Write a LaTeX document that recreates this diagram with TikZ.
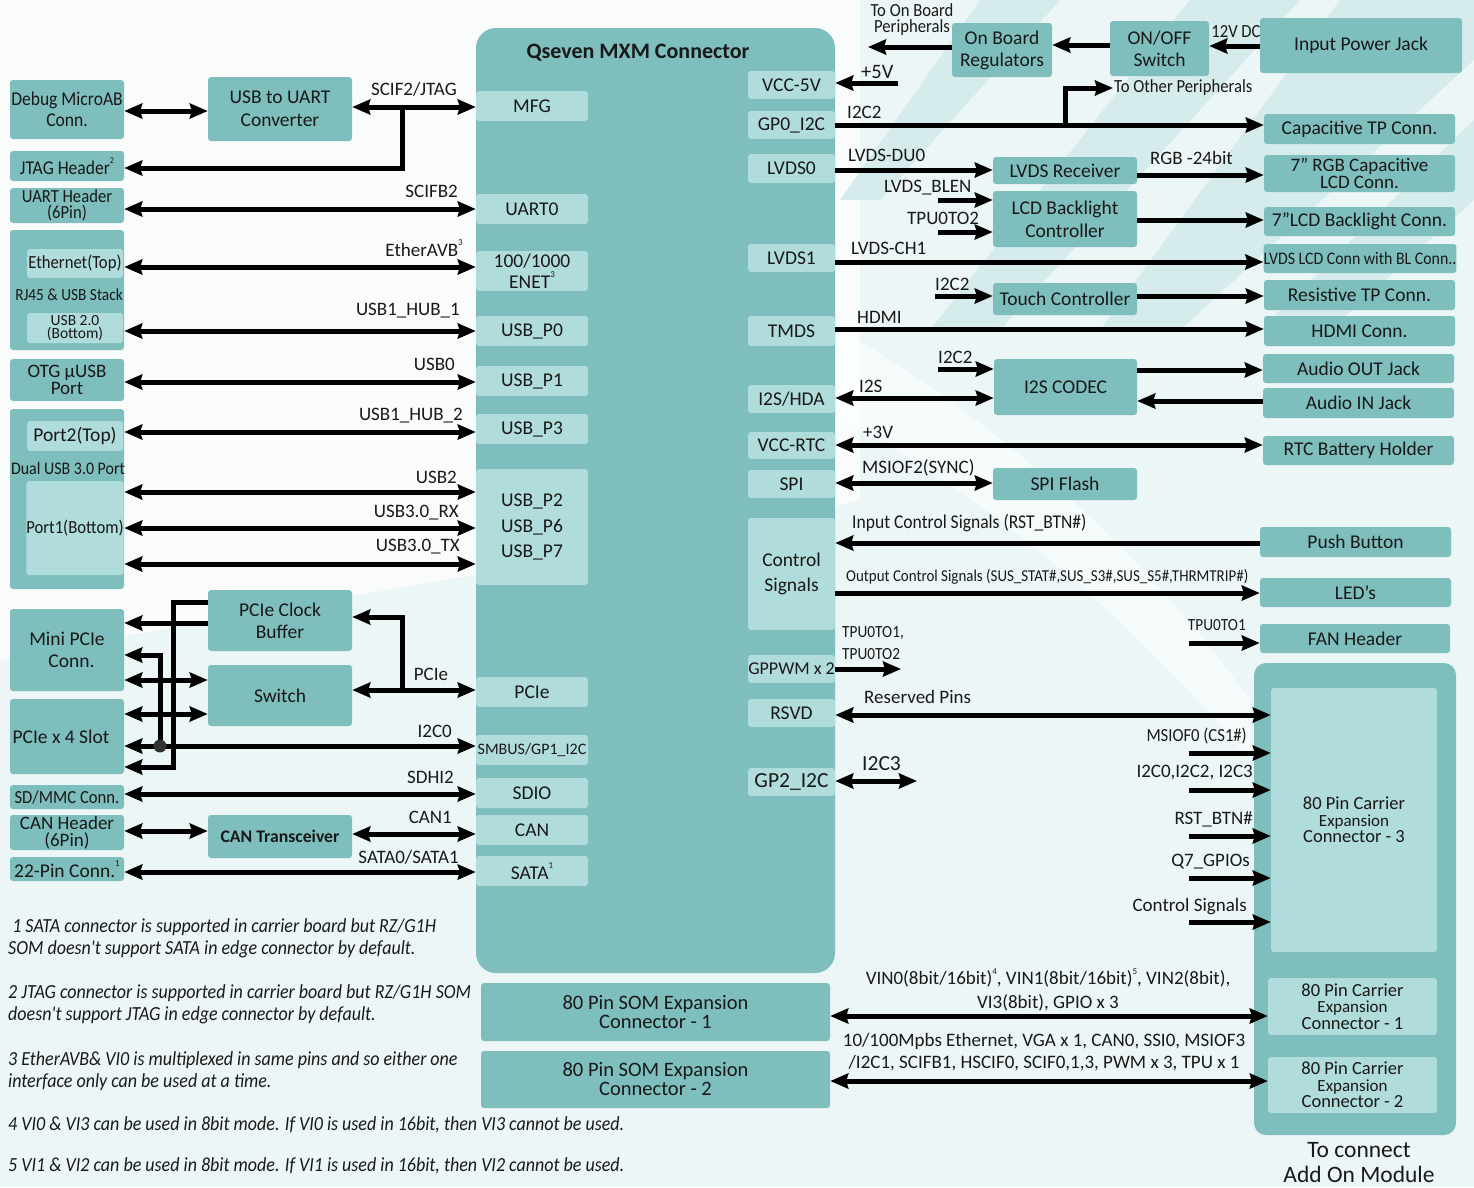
\documentclass[tikz,border=0pt]{standalone}
\usepackage{fontspec}
\setmainfont{Carlito}
\newfontfamily\condf{Carlito}[FakeStretch=0.9]
\usetikzlibrary{arrows.meta}
\definecolor{teal1}{RGB}{126,190,189}
\definecolor{teal2}{RGB}{176,220,219}
\definecolor{bgc}{RGB}{236,246,246}
\definecolor{band}{RGB}{214,236,236}
\definecolor{txt}{RGB}{25,25,25}
\newcommand\supr[1]{\raisebox{0.55em}{\fontsize{9}{9}\selectfont #1}}
\newcommand\mybox[7]{%
  \pgfmathsetmacro\bxcx{(#3+#5)/2}\pgfmathsetmacro\bxcy{(#4+#6)/2}%
  \pgfmathsetmacro\bxw{#5-#3}\pgfmathsetmacro\bxh{#6-#4}%
  \node[#2, minimum width=\bxw pt, minimum height=\bxh pt] (#1) at (\bxcx,\bxcy) {#7};}
\tikzset{
  box/.style={fill=teal1, rounded corners=3pt, inner sep=0pt, align=center, text=txt, font=\fontsize{19.5}{22}\selectfont},
  lbox/.style={fill=teal2, rounded corners=3pt, inner sep=0pt, align=center, text=txt, font=\fontsize{19.5}{22}\selectfont},
  tight/.style={font=\fontsize{19}{16.5}\selectfont},
  cond/.style={font=\condf\fontsize{18.5}{16}\selectfont},
  carr/.style={font=\fontsize{18.5}{16.5}\selectfont},
  lbl/.style={inner sep=0pt, text=txt, font=\fontsize{19}{20}\selectfont},
  clbl/.style={inner sep=0pt, text=txt, font=\condf\fontsize{18.5}{17}\selectfont},
  arr/.style={line width=5pt, line join=miter, -{Stealth[length=18pt,width=15pt,inset=2pt]}},
  darr/.style={line width=5pt, {Stealth[length=18pt,width=15pt,inset=2pt]}-{Stealth[length=18pt,width=15pt,inset=2pt]}},
  note/.style={inner sep=0pt, align=left, anchor=west, text=txt, font=\condf\itshape\fontsize{20}{22}\selectfont},
}
\newcommand\expn{{\fontsize{17}{16.5}\selectfont Expansion}}
\begin{document}
\begin{tikzpicture}[x=1pt,y=-1pt]
\useasboundingbox (0,0) rectangle (1474,1187);
\fill[bgc] (0,0) rectangle (1474,1187);
\fill[white, opacity=0.75] (0,0) -- (860,0) -- (860,500) .. controls (600,560) and (300,600) .. (0,660) -- cycle;
\fill[white, opacity=0.5] (840,330) .. controls (1000,420) and (1150,560) .. (1250,700) -- (1250,760) .. controls (1150,640) and (1000,500) .. (840,420) -- cycle;
\fill[band] (1190,0) -- (1300,0) -- (1000,330) -- (930,330) -- cycle;
\fill[band] (1340,0) -- (1474,0) -- (1474,60) -- (1180,330) -- (1100,330) -- cycle;
\fill[band] (980,0) -- (1060,0) -- (880,200) -- (840,200) -- cycle;
\fill[band] (1474,120) -- (1474,200) -- (1330,330) -- (1260,330) -- cycle;

% ---------- main connector ----------
\mybox{q7}{box, rounded corners=20pt}{476}{28}{835}{973}{}
\node[lbl, font=\bfseries\fontsize{22}{24}\selectfont] (q7t) at (638,53) {Qseven MXM Connector};

% left inner
\mybox{mfg}{lbox}{476}{91}{588}{121}{MFG}
\mybox{uart0}{lbox}{476}{194}{588}{224}{UART0}
\mybox{enet}{lbox, font=\fontsize{19.5}{21}\selectfont}{476}{251}{588}{291}{100/1000\\ENET\supr{3}}
\mybox{usbp0}{lbox}{476}{316}{588}{346}{USB\_P0}
\mybox{usbp1}{lbox}{476}{366}{588}{396}{USB\_P1}
\mybox{usbp3}{lbox}{476}{414}{588}{444}{USB\_P3}
\mybox{usbp2}{lbox, font=\fontsize{19.5}{25.5}\selectfont}{476}{469}{588}{585}{USB\_P2\\USB\_P6\\USB\_P7}
\mybox{pcie}{lbox}{476}{677}{588}{707}{PCIe}
\mybox{smbus}{lbox, font=\fontsize{16}{18}\selectfont}{476}{735}{588}{765}{SMBUS/GP1\_I2C}
\mybox{sdio}{lbox}{476}{778}{588}{808}{SDIO}
\mybox{can}{lbox}{476}{815}{588}{845}{CAN}
\mybox{sata}{lbox}{476}{856}{588}{886}{SATA\supr{1}}

% right inner
\mybox{vcc5}{lbox}{748}{71}{835}{99}{VCC-5V}
\mybox{gp0}{lbox}{748}{111}{835}{139}{GP0\_I2C}
\mybox{lvds0}{lbox}{748}{154}{835}{183}{LVDS0}
\mybox{lvds1}{lbox}{748}{244}{835}{272}{LVDS1}
\mybox{tmds}{lbox}{748}{316}{835}{346}{TMDS}
\mybox{i2s}{lbox}{748}{385}{835}{413}{I2S/HDA}
\mybox{vccrtc}{lbox}{748}{432}{835}{459}{VCC-RTC}
\mybox{spi}{lbox}{748}{470}{835}{498}{SPI}
\mybox{ctrl}{lbox, font=\fontsize{19.5}{25}\selectfont}{748}{518}{835}{630}{Control\\Signals}
\mybox{gppwm}{lbox, font=\fontsize{18}{18}\selectfont}{748}{655}{835}{683}{GPPWM x 2}
\mybox{rsvd}{lbox}{748}{699}{835}{727}{RSVD}
\mybox{gp2}{lbox, font=\fontsize{21.5}{22}\selectfont}{748}{768}{835}{796}{GP2\_I2C}

% ---------- left boxes ----------
\mybox{debug}{box, font=\condf\fontsize{19.5}{21}\selectfont}{10}{80}{124}{139}{Debug MicroAB\\Conn.}
\mybox{jtag}{box, font=\condf\fontsize{19.5}{20}\selectfont}{10}{151}{124}{181}{JTAG Header\supr{2}}
\mybox{uarth}{box, font=\condf\fontsize{18.5}{16}\selectfont}{10}{188}{124}{223}{UART Header\\(6Pin)}
\mybox{rj45}{box}{10}{230}{124}{350}{}
\mybox{eth}{lbox, cond}{27}{249}{123}{278}{Ethernet(Top)}
\node[clbl, font=\condf\fontsize{17}{17}\selectfont] (rj45t) at (69,295) {RJ45 \& USB Stack};
\mybox{usb20}{lbox, font=\fontsize{15.5}{13.5}\selectfont}{27}{313}{123}{343}{USB 2.0\\(Bottom)}
\mybox{otg}{box, tight}{10}{359}{124}{401}{OTG µUSB\\Port}
\mybox{dual}{box}{10}{409}{124}{589}{}
\mybox{port2}{lbox}{27}{421}{123}{451}{Port2(Top)}
\node[clbl, font=\condf\fontsize{17.7}{17}\selectfont] (dualt) at (68,468) {Dual USB 3.0 Port};
\mybox{port1}{lbox, cond}{27}{481}{123}{575}{Port1(Bottom)}
\mybox{minipcie}{box, font=\fontsize{19.5}{22}\selectfont}{10}{609}{124}{691}{Mini PCIe\\\ \ Conn.}
\mybox{pcie4}{box}{10}{699}{124}{774}{PCIe x 4 Slot\hspace*{12pt}}
\mybox{sdmmc}{box, cond}{10}{785}{124}{809}{SD/MMC Conn.}
\mybox{canh}{box, tight}{10}{815}{124}{850}{CAN Header\\(6Pin)}
\mybox{pin22}{box}{10}{857}{124}{881}{22-Pin Conn.\supr{1}}

% middle boxes
\mybox{u2u}{box, font=\fontsize{19.5}{23}\selectfont}{208}{77}{352}{141}{USB to UART\\Converter}
\mybox{clkbuf}{box, font=\fontsize{19.5}{22}\selectfont}{208}{590}{352}{651}{PCIe Clock\\Buffer}
\mybox{switch}{box}{208}{665}{352}{726}{Switch}
\mybox{cantr}{box, font=\bfseries\fontsize{17.7}{20}\selectfont}{208}{815}{352}{858}{CAN Transceiver}

% ---------- right boxes ----------
\mybox{regs}{box, font=\fontsize{19.5}{22}\selectfont}{952}{23}{1052}{77}{On Board\\Regulators}
\mybox{onoff}{box, font=\fontsize{19.5}{22}\selectfont}{1110}{21}{1209}{76}{ON/OFF\\Switch}
\mybox{pwrjack}{box}{1260}{18}{1462}{73}{Input Power Jack}
\mybox{captp}{box}{1264}{114}{1455}{144}{Capacitive TP Conn.}
\mybox{lvdsrx}{box}{993}{157}{1137}{184}{LVDS Receiver}
\mybox{rgb}{box, tight}{1264}{155}{1455}{192}{7” RGB Capacitive\\LCD Conn.}
\mybox{lcdbl}{box, font=\fontsize{19.5}{23}\selectfont}{993}{191}{1137}{247}{LCD Backlight\\Controller}
\mybox{blconn}{box}{1264}{207}{1455}{236}{7”LCD Backlight Conn.}
\mybox{lvdslcd}{box, font=\condf\fontsize{17.6}{16}\selectfont}{1264}{244}{1456}{273}{LVDS LCD Conn with BL Conn..}
\mybox{touch}{box}{993}{283}{1137}{315}{Touch Controller}
\mybox{restp}{box}{1264}{280}{1455}{310}{Resistive TP Conn.}
\mybox{hdmi}{box}{1264}{316}{1455}{346}{HDMI Conn.}
\mybox{codec}{box}{994}{359}{1137}{415}{I2S CODEC}
\mybox{audout}{box}{1263}{354}{1454}{383}{Audio OUT Jack}
\mybox{audin}{box}{1263}{388}{1454}{418}{Audio IN Jack}
\mybox{rtc}{box}{1263}{436}{1454}{465}{RTC Battery Holder}
\mybox{spiflash}{box}{993}{468}{1137}{500}{SPI Flash}
\mybox{push}{box}{1260}{527}{1451}{557}{Push Button}
\mybox{leds}{box}{1260}{578}{1451}{607}{LED’s}
\mybox{fan}{box}{1260}{624}{1450}{653}{FAN Header}
\mybox{carrier}{box, rounded corners=12pt}{1254}{663}{1456}{1135}{}
\mybox{c3}{lbox, carr}{1271}{688}{1437}{952}{80 Pin Carrier\\\expn\\Connector - 3}
\mybox{c1}{lbox, carr}{1268}{978}{1437}{1035}{80 Pin Carrier\\\expn\\Connector - 1}
\mybox{c2}{lbox, carr}{1268}{1057}{1437}{1113}{80 Pin Carrier\\\expn\\Connector - 2}
\mybox{som1}{box, font=\fontsize{20.5}{19}\selectfont}{481}{983}{830}{1041}{80 Pin SOM Expansion\\Connector - 1}
\mybox{som2}{box, font=\fontsize{20.5}{19}\selectfont}{481}{1051}{830}{1108}{80 Pin SOM Expansion\\Connector - 2}
\node[lbl, align=center, font=\fontsize{23.5}{25}\selectfont] (addon) at (1359,1163) {To connect\\Add On Module};

% ---------- left connectors ----------
\draw[darr] (debug.east |- 0,111) -- (u2u.west |- 0,111);
\draw[darr] (u2u.east |- 0,107) -- (mfg.west |- 0,107);
\coordinate (jb) at (402,107);
\draw[arr] (jb) |- (jtag.east |- 0,168);
\node[lbl, anchor=east] (l1) at (457,89) {SCIF2/JTAG};
\draw[darr] (uarth.east |- 0,209) -- (uart0.west |- 0,209);
\node[lbl, anchor=east] (l2) at (458,191) {SCIFB2};
\draw[darr] (rj45.east |- 0,267) -- (enet.west |- 0,267);
\node[lbl, anchor=east] (l3) at (463,248) {EtherAVB\supr{3}};
\draw[darr] (rj45.east |- 0,331) -- (usbp0.west |- 0,331);
\node[lbl, anchor=east] (l4) at (460,311) {USB1\_HUB\_1};
\draw[darr] (otg.east |- 0,382) -- (usbp1.west |- 0,382);
\node[lbl, anchor=east] (l5) at (455,364) {USB0};
\draw[darr] (dual.east |- 0,432) -- (usbp3.west |- 0,432);
\node[lbl, anchor=east] (l6) at (463,416) {USB1\_HUB\_2};
\draw[darr] (dual.east |- 0,492) -- (usbp2.west |- 0,492);
\node[lbl, anchor=east] (l7) at (457,477) {USB2};
\draw[darr] (dual.east |- 0,528) -- (usbp2.west |- 0,528);
\node[lbl, anchor=east] (l8) at (459,513) {USB3.0\_RX};
\draw[darr] (dual.east |- 0,564) -- (usbp2.west |- 0,564);
\node[lbl, anchor=east] (l9) at (460,547) {USB3.0\_TX};

% PCIe group
\coordinate (pb) at (402,690);
\draw[darr] (switch.east |- 0,690) -- (pcie.west |- 0,690);
\draw[arr] (pb) |- (clkbuf.east |- 0,617);
\node[lbl] (l10) at (431,674) {PCIe};
\coordinate (cb1) at (173,602);
\coordinate (cb2) at (173,767);
\draw[arr] (clkbuf.west |- cb1) -- (cb1) -- (cb2) -- (pcie4.east |- cb2);
\draw[arr] (clkbuf.west |- 0,623) -- (minipcie.east |- 0,623);
\coordinate (dot) at (160,746);
\draw[arr] (dot) |- (minipcie.east |- 0,655);
\draw[darr] (minipcie.east |- 0,680) -- (switch.west |- 0,680);
\draw[darr] (pcie4.east |- 0,714) -- (switch.west |- 0,714);
\draw[darr] (pcie4.east |- dot) -- (smbus.west |- dot);
\fill[black!80] (dot) circle (6.5pt);
\node[lbl, anchor=east] (l11) at (452,731) {I2C0};
\draw[darr] (sdmmc.east |- 0,794) -- (sdio.west |- 0,794);
\node[lbl, anchor=east] (l12) at (454,777) {SDHI2};
\draw[darr] (canh.east |- 0,831) -- (cantr.west |- 0,831);
\draw[darr] (cantr.east |- 0,834) -- (can.west |- 0,834);
\node[lbl, anchor=east] (l13) at (452,817) {CAN1};
\draw[darr] (pin22.east |- 0,872) -- (sata.west |- 0,872);
\node[lbl, anchor=east] (l14) at (459,857) {SATA0/SATA1};

% ---------- right connectors ----------
\draw[arr] (pwrjack.west |- 0,46) -- (onoff.east |- 0,46);
\node[clbl] (l15) at (1236,32) {12V DC};
\draw[arr] (onoff.west |- 0,45) -- (regs.east |- 0,45);
\coordinate (tob) at (868,47);
\draw[arr] (regs.west |- tob) -- (tob);
\node[clbl, align=center, font=\condf\fontsize{18.5}{16}\selectfont] (l16) at (912,20) {To On Board\\Peripherals};
\coordinate (p5) at (898,83);
\draw[arr] (p5) -- (vcc5.east |- p5);
\node[lbl, anchor=west, font=\fontsize{20.5}{20}\selectfont] (l17) at (861,72) {+5V};
\draw[arr] (gp0.east |- 0,125) -- (captp.west |- 0,125);
\coordinate (ib) at (1065,125);
\coordinate (top) at (1113,88);
\draw[arr] (ib) |- (top);
\node[clbl, anchor=west] (l18) at (1114,88) {To Other Peripherals};
\node[lbl, anchor=west] (l19) at (847,112) {I2C2};
\draw[arr] (lvds0.east |- 0,170) -- (lvdsrx.west |- 0,170);
\node[lbl, anchor=west] (l20) at (848,155) {LVDS-DU0};
\draw[arr] (lvdsrx.east |- 0,175) -- (rgb.west |- 0,175);
\node[lbl, anchor=west] (l21) at (1150,158) {RGB -24bit};
\coordinate (blen) at (938,200);
\draw[arr] (blen) -- (lcdbl.west |- blen);
\node[lbl, anchor=west] (l22) at (884,188) {LVDS\_BLEN};
\coordinate (tpu2) at (938,232);
\draw[arr] (tpu2) -- (lcdbl.west |- tpu2);
\node[lbl, anchor=west] (l23) at (907,218) {TPU0TO2};
\draw[arr] (lcdbl.east |- 0,220) -- (blconn.west |- 0,220);
\draw[arr] (lvds1.east |- 0,262) -- (lvdslcd.west |- 0,262);
\node[lbl, anchor=west] (l24) at (851,248) {LVDS-CH1};
\coordinate (tc) at (935,296);
\draw[arr] (tc) -- (touch.west |- tc);
\node[lbl, anchor=west] (l25) at (935,284) {I2C2};
\draw[arr] (touch.east |- 0,296) -- (restp.west |- 0,296);
\draw[arr] (tmds.east |- 0,329) -- (hdmi.west |- 0,329);
\node[lbl, anchor=west] (l26) at (857,317) {HDMI};
\coordinate (cc) at (938,369);
\draw[arr] (cc) -- (codec.west |- cc);
\node[lbl, anchor=west] (l27) at (938,357) {I2C2};
\draw[darr] (i2s.east |- 0,398) -- (codec.west |- 0,398);
\node[lbl, anchor=west] (l28) at (859,386) {I2S};
\draw[arr] (codec.east |- 0,370) -- (audout.west |- 0,370);
\draw[arr] (audin.west |- 0,401) -- (codec.east |- 0,401);
\draw[darr] (vccrtc.east |- 0,445) -- (rtc.west |- 0,445);
\node[lbl, anchor=west] (l29) at (863,432) {+3V};
\draw[darr] (spi.east |- 0,483) -- (spiflash.west |- 0,483);
\node[lbl, anchor=west] (l30) at (862,468) {MSIOF2(SYNC)};
\draw[arr] (push.west |- 0,543) -- (ctrl.east |- 0,543);
\node[clbl, anchor=west, font=\condf\fontsize{19.5}{20}\selectfont] (l31) at (852,523) {Input Control Signals (RST\_BTN\#)};
\draw[arr] (ctrl.east |- 0,593) -- (leds.west |- 0,593);
\node[clbl, anchor=west, font=\condf\fontsize{16.6}{16}\selectfont] (l32) at (846,577) {Output Control Signals (SUS\_STAT\#,SUS\_S3\#,SUS\_S5\#,THRMTRIP\#)};
\node[clbl, anchor=west, font=\condf\fontsize{17}{22}\selectfont, align=left] (l33) at (842,643) {TPU0TO1,\\TPU0TO2};
\coordinate (gpe) at (901,669);
\draw[arr] (gppwm.east |- gpe) -- (gpe);
\coordinate (tpu1) at (1189,643);
\draw[arr] (tpu1) -- (fan.west |- tpu1);
\node[clbl, anchor=east, font=\condf\fontsize{17}{16}\selectfont] (l34) at (1246,625) {TPU0TO1};
\draw[darr] (rsvd.east |- 0,715) -- (c3.west |- 0,715);
\node[lbl, anchor=west] (l35) at (864,697) {Reserved Pins};
\coordinate (e1) at (1189,753);
\coordinate (e2) at (1189,790);
\coordinate (e3) at (1189,836);
\coordinate (e4) at (1189,878);
\coordinate (e5) at (1189,922);
\draw[arr] (e1) -- (c3.west |- e1);
\draw[arr] (e2) -- (c3.west |- e2);
\draw[arr] (e3) -- (c3.west |- e3);
\draw[arr] (e4) -- (c3.west |- e4);
\draw[arr] (e5) -- (c3.west |- e5);
\node[clbl, anchor=east] (l36) at (1247,736) {MSIOF0 (CS1\#)};
\node[lbl, anchor=east] (l37) at (1253,773) {I2C0,I2C2, I2C3};
\node[lbl, anchor=east] (l38) at (1253,819) {RST\_BTN\#};
\node[lbl, anchor=east] (l39) at (1250,862) {Q7\_GPIOs};
\node[lbl, anchor=east] (l40) at (1247,907) {Control Signals};
\coordinate (i3) at (917,781);
\draw[darr] (gp2.east |- i3) -- (i3);
\node[lbl, anchor=west, font=\fontsize{21.5}{20}\selectfont] (l41) at (862,764) {I2C3};
\draw[darr] (som1.east |- 0,1016) -- (c1.west |- 0,1016);
\node[lbl, align=center, font=\fontsize{19}{24}\selectfont] (l42) at (1048,990) {VIN0(8bit/16bit)\supr{4}, VIN1(8bit/16bit)\supr{5}, VIN2(8bit),\\VI3(8bit), GPIO x 3};
\draw[darr] (som2.east |- 0,1081) -- (c2.west |- 0,1081);
\node[lbl, align=center, font=\fontsize{19}{22}\selectfont] (l43) at (1044,1052) {10/100Mpbs Ethernet, VGA x 1, CAN0, SSI0, MSIOF3\\/I2C1, SCIFB1, HSCIF0, SCIF0,1,3, PWM x 3, TPU x 1};

% ---------- footnotes ----------
\node[note] (n1) at (8,938) {\ 1 SATA connector is supported in carrier board but RZ/G1H\\SOM doesn't support SATA in edge connector by default.};
\node[note] (n2) at (8,1004) {2 JTAG connector is supported in carrier board but RZ/G1H SOM\\doesn't support JTAG in edge connector by default.};
\node[note] (n3) at (8,1071) {3 EtherAVB\& VI0 is multiplexed in same pins and so either one\\interface only can be used at a time.};
\node[note] (n4) at (8,1125) {4 VI0 \& VI3 can be used in 8bit mode. If VI0 is used in 16bit, then VI3 cannot be used.};
\node[note] (n5) at (8,1166) {5 VI1 \& VI2 can be used in 8bit mode. If VI1 is used in 16bit, then VI2 cannot be used.};
\end{tikzpicture}
\end{document}
